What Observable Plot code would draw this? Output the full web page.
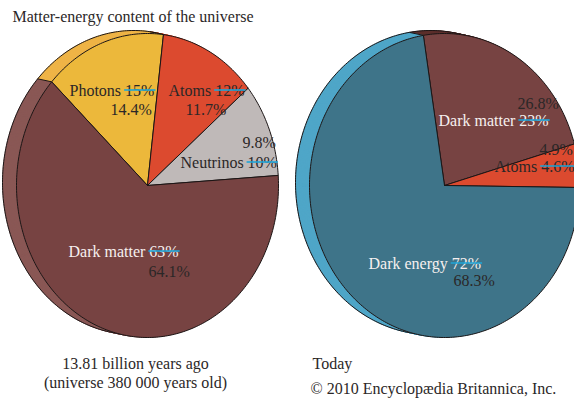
<!DOCTYPE html>
<html>
<head>
<meta charset="utf-8">
<script src="https://cdn.jsdelivr.net/npm/d3@7"></script>
<script src="https://cdn.jsdelivr.net/npm/@observablehq/plot@0.6"></script>
<style>
  html, body { margin: 0; padding: 0; background: #fff; overflow: hidden; }
</style>
</head>
<body>
<div id="chart"></div>
<script>
// Matter-energy budget 380 000 years after the Big Bang
const earlyCategories = ["Photons", "Atoms", "Neutrinos", "Dark matter"];
const earlyPrevious = [15, 12, 10, 63];          // earlier estimate (struck through)
const earlyRevised = [14.4, 11.7, 9.8, 64.1];    // revised estimate

// Matter-energy budget today
const todayCategories = ["Dark matter", "Atoms", "Dark energy"];
const todayPrevious = [23, 4.6, 72];
const todayRevised = [26.8, 4.9, 68.3];

const titleText = "Matter-energy content of the universe";
const earlyCaption = ["13.81 billion years ago", "(universe 380 000 years old)"];
const todayCaption = "Today";
const creditText = "\u00A9 2010 Encyclop\u00E6dia Britannica, Inc.";

// ---- layout and styling ----
const W = 574, H = 399;
const FONT = "'Liberation Serif', 'Times New Roman', serif";
const FS = 16;
const INK = "#2b2727";
const LIGHT = "#f6f0ef";
const EDGE = "#1c1616";
const STRIKE = "#1fa6d9";

const faceColor = {
  "Photons": "#ecb83b",
  "Atoms": "#dc4a2f",
  "Neutrinos": "#bfb9b8",
  "Dark matter": "#774342",
  "Dark energy": "#3e7489"
};

const pies = [
  {
    key: "early", categories: earlyCategories, shares: earlyPrevious, revised: earlyRevised,
    cx: 147, cy: 185, rx: 131, ry: 152, start: -47, depth: [-14, -3],
    side: {"Photons": "#efb446", "Atoms": "#e5603f", "Neutrinos": "#cdc7c6", "Dark matter": "#8a5855"},
    labels: {
      "Photons":     {name: [69, 95],   value: [110, 114]},
      "Atoms":       {name: [168, 95],  value: [185, 114]},
      "Neutrinos":   {name: [180, 167], value: [242, 147]},
      "Dark matter": {name: [68, 256],  value: [148, 276], light: true}
    }
  },
  {
    key: "today", categories: todayCategories, shares: todayPrevious, revised: todayRevised,
    cx: 444, cy: 185, rx: 135, ry: 152, start: -9, depth: [-14, -3],
    side: {"Dark matter": "#5c2f2c", "Atoms": "#e5603f", "Dark energy": "#4fa6c8"},
    labels: {
      "Dark matter": {name: [438, 125], value: [517, 108], light: true},
      "Atoms":       {name: [494, 171], value: [539, 154]},
      "Dark energy": {name: [368, 268], value: [453, 285], light: true}
    }
  }
];

// ---- geometry helpers ----
const rad = (a) => a * Math.PI / 180;
function rim(p, a, off = [0, 0]) {
  return [p.cx + p.rx * Math.sin(rad(a)) + off[0], p.cy - p.ry * Math.cos(rad(a)) + off[1]];
}
function slicesOf(p) {
  const total = d3.sum(p.shares);
  let acc = 0;
  return p.categories.map((cat, i) => {
    const a0 = p.start + 360 * acc / total;
    acc += p.shares[i];
    const a1 = p.start + 360 * acc / total;
    return {cat, i, a0, a1};
  });
}
function wedge(p, s, off = [0, 0]) {
  const c = [p.cx + off[0], p.cy + off[1]];
  const n = Math.max(2, Math.ceil(s.a1 - s.a0));
  const pts = [c];
  for (let j = 0; j <= n; j++) pts.push(rim(p, s.a0 + (s.a1 - s.a0) * j / n, off));
  pts.push(c);
  return pts;
}

const sideRows = [], outlineRows = [], seamRows = [], faceRows = [];
const STEPS = 16;
for (const p of pies) {
  const slices = slicesOf(p);
  // thickness of the disc: stacked copies from back to front
  for (let k = STEPS; k >= 1; k--) {
    const off = [p.depth[0] * k / STEPS, p.depth[1] * k / STEPS];
    for (const s of slices) {
      for (const [x, y] of wedge(p, s, off)) {
        sideRows.push({id: `${p.key}-${k}-${s.i}`, x, y, fill: p.side[s.cat]});
      }
    }
  }
  // outer edge of the back of the disc
  for (let a = 0; a <= 360; a += 1) {
    const [x, y] = rim(p, a, p.depth);
    outlineRows.push({id: p.key, x, y});
  }
  // seams between slices along the rim
  for (const s of slices) {
    const [x1, y1] = rim(p, s.a0);
    const [x2, y2] = rim(p, s.a0, p.depth);
    seamRows.push({x1, y1, x2, y2});
  }
  // front face
  for (const s of slices) {
    for (const [x, y] of wedge(p, s)) {
      faceRows.push({id: `${p.key}-face-${s.i}`, x, y, fill: faceColor[s.cat]});
    }
  }
}

// ---- labels ----
const ctx = document.createElement("canvas").getContext("2d");
ctx.font = `${FS}px ${FONT}`;
const textWidth = (t) => ctx.measureText(t).width;

const labelRows = [], strikeRows = [];
for (const p of pies) {
  p.categories.forEach((cat, i) => {
    const spot = p.labels[cat];
    const oldText = `${p.shares[i]}%`;
    const prefix = `${cat} `;
    const nameText = prefix + oldText;
    labelRows.push({x: spot.name[0], y: spot.name[1] - 5, text: nameText, fill: spot.light ? LIGHT : INK});
    labelRows.push({x: spot.value[0], y: spot.value[1] - 5, text: `${p.revised[i].toFixed(1)}%`, fill: INK});
    const xs = spot.name[0] + textWidth(prefix);
    strikeRows.push({x1: xs - 1, x2: xs + textWidth(oldText) + 1, y: spot.name[1] - 5.5});
  });
}

const startText = [
  {x: 12, y: 21 - 5, text: titleText},
  {x: 312, y: 368 - 5, text: todayCaption},
  {x: 310, y: 393 - 5, text: creditText}
];
const middleText = [
  {x: 135, y: 368 - 5, text: earlyCaption[0]},
  {x: 135, y: 387 - 5, text: earlyCaption[1]}
];

const chart = Plot.plot({
  width: W,
  height: H,
  margin: 0,
  x: {type: "identity", axis: null},
  y: {type: "identity", axis: null},
  color: {type: "identity"},
  style: {background: "#fff"},
  marks: [
    Plot.line(sideRows, {x: "x", y: "y", z: "id", fill: "fill", stroke: "fill", strokeWidth: 0.6}),
    Plot.line(outlineRows, {x: "x", y: "y", z: "id", stroke: EDGE, strokeWidth: 1, fill: "none"}),
    Plot.link(seamRows, {x1: "x1", y1: "y1", x2: "x2", y2: "y2", stroke: EDGE, strokeWidth: 1}),
    Plot.line(faceRows, {x: "x", y: "y", z: "id", fill: "fill", stroke: EDGE, strokeWidth: 1, strokeLinejoin: "round"}),
    Plot.text(labelRows, {x: "x", y: "y", text: "text", fill: "fill", textAnchor: "start", fontFamily: FONT, fontSize: FS}),
    Plot.link(strikeRows, {x1: "x1", x2: "x2", y1: "y", y2: "y", stroke: STRIKE, strokeWidth: 1.6}),
    Plot.text(startText, {x: "x", y: "y", text: "text", fill: INK, textAnchor: "start", fontFamily: FONT, fontSize: FS}),
    Plot.text(middleText, {x: "x", y: "y", text: "text", fill: INK, textAnchor: "middle", fontFamily: FONT, fontSize: FS})
  ]
});
document.getElementById("chart").appendChild(chart);
</script>
</body>
</html>
